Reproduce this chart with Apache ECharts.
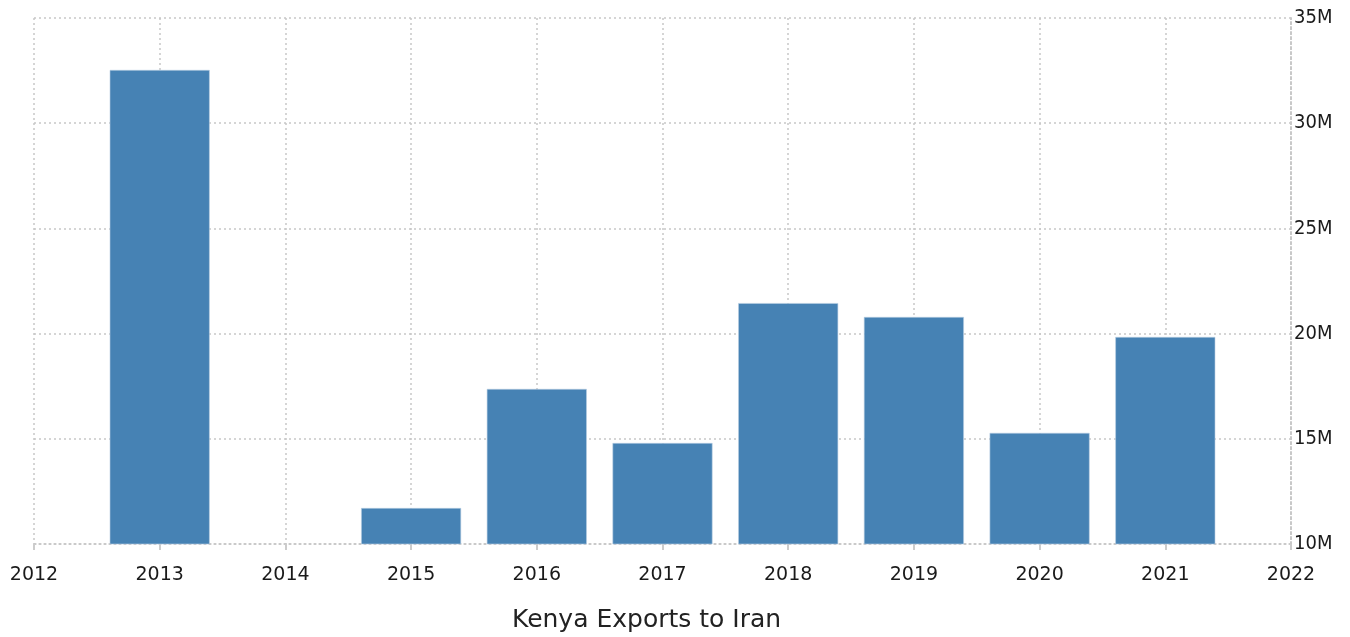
<!DOCTYPE html>
<html>
<head>
<meta charset="utf-8">
<script src="https://cdn.jsdelivr.net/npm/echarts@6/dist/echarts.min.js"></script>
<style>html,body{margin:0;padding:0;background:#fff;}#c{width:1350px;height:637px;}</style>
</head>
<body>
<div id="c"></div>
<script>
const years = [2013, 2014, 2015, 2016, 2017, 2018, 2019, 2020, 2021];
const exportsM = [32.53, null, 11.71, 17.37, 14.80, 21.45, 20.79, 15.28, 19.84];
const yTicks = ['10M', '15M', '20M', '25M', '30M', '35M'];
const title = 'Kenya Exports to Iran';

const grid = { color: '#c8c8c8', type: [2, 3], width: 1.5 };
const chart = echarts.init(document.getElementById('c'));
chart.setOption({
  animation: false,
  title: {
    text: title, left: 507, top: 603,
    textStyle: { fontFamily: 'DejaVu Sans', fontSize: 25, fontWeight: 'normal', color: '#222' }
  },
  grid: { left: 34, right: 59, top: 18, bottom: 93, containLabel: false },
  xAxis: {
    type: 'value', min: 2012, max: 2022, interval: 1,
    axisLine: { show: true, lineStyle: grid },
    axisTick: { show: true, length: 6, lineStyle: { color: '#ccc', width: 2 } },
    axisLabel: { margin: 22, fontFamily: 'DejaVu Sans', fontSize: 19, color: '#1a1a1a', formatter: v => String(v) },
    splitLine: { show: true, lineStyle: grid }
  },
  yAxis: {
    type: 'value', position: 'right', min: 10, max: 35, interval: 5,
    axisLine: { show: true, lineStyle: { color: '#c8c8c8', type: [2, 3], width: 2 } },
    axisTick: { show: false },
    axisLabel: { margin: 3, padding: [4, 0, 0, 0], fontFamily: 'DejaVu Sans Condensed', fontSize: 20, color: '#1a1a1a',
      formatter: v => yTicks[Math.round((v - 10) / 5)] },
    splitLine: { show: true, lineStyle: grid }
  },
  series: [{
    type: 'bar',
    data: years.map((y, i) => [y, exportsM[i]]),
    barWidth: 100,
    itemStyle: { color: '#4682b4', borderColor: '#b9cfe3', borderWidth: 0.6 }
  }]
});
</script>
</body>
</html>
